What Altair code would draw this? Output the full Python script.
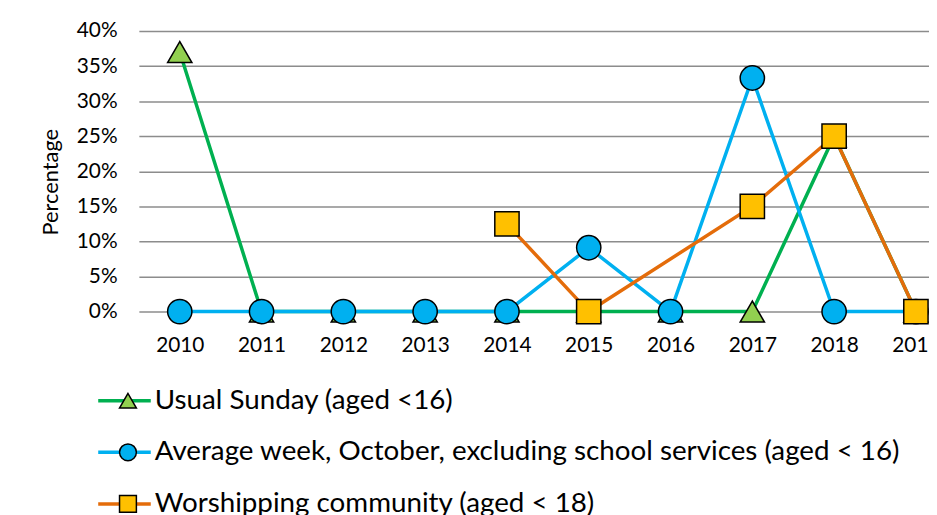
import altair as alt
import pandas as pd

FONT = "Lato"

years = [2010, 2011, 2012, 2013, 2014, 2015, 2016, 2017, 2018, 2019]
usual_sunday = [37.0, 0, 0, 0, 0, 0, 0, 0, 25.0, 0]
average_week = [0, 0, 0, 0, 0, 9.1, 0, 33.3, 0, 0]
worshipping = [None, None, None, None, 12.5, 0, None, 15.0, 25.0, 0]

series_names = [
    "Usual Sunday (aged <16)",
    "Average week, October, excluding school services (aged < 16)",
    "Worshipping community (aged < 18)",
]
marker_keys = ["m0", "m1", "m2"]
outline_keys = ["o0", "o1", "o2"]
line_colors = ["#00B050", "#00B0F0", "#E46C0A"]
fill_colors = ["#92D050", "#00B0F0", "#FFC000"]
shapes = ["triangle-up", "circle", "square"]
y_ticks = [0, 5, 10, 15, 20, 25, 30, 35, 40]

rows = []
for i, vals in enumerate([usual_sunday, average_week, worshipping]):
    for yr, v in zip(years, vals):
        if v is not None:
            rows.append({"year": yr, "value": v, "series": series_names[i],
                         "mkey": marker_keys[i], "okey": outline_keys[i]})
df = pd.DataFrame(rows)

x_enc = alt.X(
    "year:Q",
    scale=alt.Scale(domain=[2009.5, 2019.16], nice=False, zero=False),
    axis=alt.Axis(
        values=years, format="d", title=None, grid=False, domain=False,
        ticks=False, labelFontSize=21, labelFont=FONT, labelColor="black",
        labelPadding=23, labelFlush=False, labelOverlap=False,
    ),
)
y_enc = alt.Y(
    "value:Q",
    scale=alt.Scale(domain=[0, 40], nice=False),
    axis=alt.Axis(
        values=y_ticks, labelExpr="datum.value + '%'", title="Percentage",
        titleFont=FONT, titleFontSize=22, titleFontWeight="normal",
        titleColor="black", titlePadding=14, titleY=152, labelFont=FONT,
        labelFontSize=21, labelColor="black", labelPadding=22, domain=False,
        ticks=False, gridColor="#8c8c8c", gridWidth=1.5, gridOpacity=1,
    ),
)

LEG_Y = 360
LEG_COMMON = dict(
    orient="none", legendY=LEG_Y, title=None, labelFont=FONT,
    labelFontSize=28, labelLimit=2000, rowPadding=24, clipHeight=26,
    padding=0, offset=0,
)
line_legend = alt.Legend(
    legendX=-43, symbolType="stroke", symbolSize=2809, symbolStrokeWidth=3.5,
    labelColor="black", labelOffset=2, **LEG_COMMON,
)
pt_legend = alt.Legend(
    legendX=-25, symbolSize=289, symbolStrokeWidth=0, symbolOpacity=1,
    labelOpacity=0, **LEG_COMMON,
)
outline_legend = alt.Legend(
    legendX=-25, symbolSize=289, symbolStrokeWidth=1.5, symbolOpacity=1,
    symbolStrokeColor="black", symbolFillColor="transparent",
    labelOpacity=0, **LEG_COMMON,
)

color_scale = alt.Scale(domain=series_names, range=line_colors)
fill_scale = alt.Scale(domain=marker_keys, range=fill_colors)
shape_scale = alt.Scale(domain=marker_keys, range=shapes)
outline_scale = alt.Scale(domain=outline_keys, range=shapes)

base = alt.Chart(df)

lines = base.mark_line(strokeWidth=3.5).encode(
    x=x_enc, y=y_enc,
    color=alt.Color("series:N", scale=color_scale, legend=line_legend),
)

pts = base.mark_point(filled=True, size=600, strokeWidth=1.5, opacity=1).encode(
    x=x_enc, y=y_enc,
    stroke=alt.value("black"),
    fill=alt.Fill("mkey:N", scale=fill_scale, legend=pt_legend),
    shape=alt.Shape("mkey:N", scale=shape_scale, legend=pt_legend),
)

outline_pts = base.mark_point(filled=False, size=10, opacity=0).encode(
    x=x_enc, y=y_enc,
    stroke=alt.value("black"),
    shape=alt.Shape("okey:N", scale=outline_scale, legend=outline_legend),
)

chart = (
    alt.layer(lines, pts, outline_pts)
    .resolve_scale(shape="independent", fill="independent")
    .properties(
        width=797, height=283,
        autosize=alt.AutoSizeParams(type="none"),
        padding={"left": 132, "top": 21, "right": 0, "bottom": 203},
        background="white",
    )
    .configure_view(stroke=None)
)

chart.save("out.html", embed_options={"renderer": "svg", "actions": False})
